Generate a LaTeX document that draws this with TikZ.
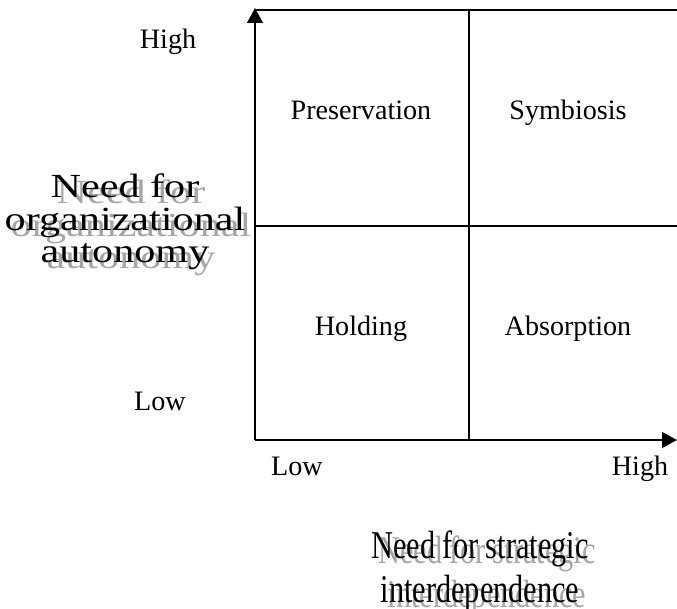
\documentclass[tikz,border=0pt]{standalone}
\usepackage{fontspec}
\setmainfont{Liberation Serif}
\newfontfamily\widefont[FakeStretch=1.25]{Liberation Serif}
\newfontfamily\narrowfont[FakeStretch=0.77]{Liberation Serif}
\usetikzlibrary{arrows.meta}
\begin{document}
\begin{tikzpicture}[x=0.025cm,y=-0.025cm,
  axis/.style={line width=1.4pt,-{Triangle[width=11pt,length=10.5pt]}},
  divider/.style={line width=1pt},
  cell/.style={anchor=base,font=\fontsize{20}{24}\selectfont},
  ytitle/.style={align=center,font=\widefont\fontsize{24}{23}\selectfont},
  xtitle/.style={align=center,font=\narrowfont\fontsize{28}{31}\selectfont},
  shadow/.style={text=black!35}]
  \useasboundingbox (0,0) rectangle (677,608);
  % --- Corners of the grid ---
  \coordinate (o) at (255,440);
  \coordinate (ytop) at (255,8);
  \coordinate (xend) at (677,440);
  \coordinate (tl) at (255,10);
  \coordinate (tr) at (677,10);
  \coordinate (mt) at (469,10);
  \coordinate (mb) at (469,440);
  \coordinate (ml) at (255,226);
  \coordinate (mr) at (677,226);
  % --- Axes and dividers ---
  \draw[axis] (o) -- (ytop);
  \draw[axis] (o) -- (xend);
  \draw[divider] (tl) -- (tr);
  \draw[divider] (mt) -- (mb);
  \draw[divider] (ml) -- (mr);
  % --- Quadrants ---
  \node[cell] (pres) at (361,119) {Preservation};
  \node[cell] (symb) at (568,119) {Symbiosis};
  \node[cell] (hold) at (361,335) {Holding};
  \node[cell] (absp) at (568,335) {Absorption};
  % --- Scale labels ---
  \node[cell] (yhigh) at (168,48) {High};
  \node[cell] (ylow) at (160,410) {Low};
  \node[cell] (xlow) at (297,475) {Low};
  \node[cell] (xhigh) at (640,475) {High};
  % --- Axis titles, with their shadows ---
  \node[ytitle,shadow] (yshade) at (131,228) {Need for\\organizational\\autonomy};
  \node[ytitle] (ytit) at (125,222) {Need for\\organizational\\autonomy};
  \node[xtitle,shadow] (xshade) at (487,576) {Need for strategic\\interdependence};
  \node[xtitle] (xtit) at (480,571) {Need for strategic\\interdependence};
\end{tikzpicture}
\end{document}
